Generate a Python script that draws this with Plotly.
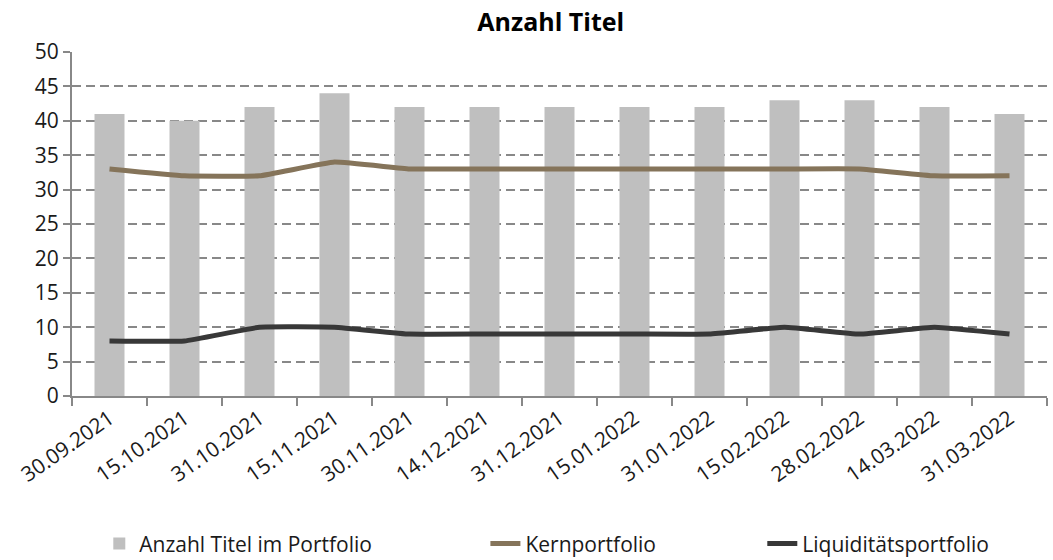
import plotly.graph_objects as go

dates = ["30.09.2021", "15.10.2021", "31.10.2021", "15.11.2021", "30.11.2021", "14.12.2021",
         "31.12.2021", "15.01.2022", "31.01.2022", "15.02.2022", "28.02.2022", "14.03.2022", "31.03.2022"]
anzahl = [41, 40, 42, 44, 42, 42, 42, 42, 42, 43, 43, 42, 41]
kern = [33, 32, 32, 34, 33, 33, 33, 33, 33, 33, 33, 32, 32]
liq = [8, 8, 10, 10, 9, 9, 9, 9, 9, 10, 9, 10, 9]

FONT = "Open Sans"
TXT = "#1a1a1a"

fig = go.Figure()
fig.add_trace(go.Bar(x=dates, y=anzahl, name="Anzahl Titel im Portfolio",
                     marker=dict(color="#bfbfbf", line=dict(width=0)), legend="legend"))
fig.add_trace(go.Scatter(x=dates, y=kern, name="Kernportfolio", mode="lines", legend="legend2",
                         line=dict(color="#85745a", width=5, shape="spline", smoothing=0.3)))
fig.add_trace(go.Scatter(x=dates, y=liq, name="Liquiditätsportfolio", mode="lines", legend="legend3",
                         line=dict(color="#383838", width=5, shape="spline", smoothing=0.3)))

leg_common = dict(orientation="h", xanchor="left", y=-0.43, yanchor="middle", borderwidth=0,
                  font=dict(family=FONT, size=21, color=TXT), bgcolor="rgba(0,0,0,0)")

fig.update_layout(
    width=1053, height=560,
    margin=dict(l=72, r=6, t=52, b=164, autoexpand=False),
    paper_bgcolor="white", plot_bgcolor="white",
    font=dict(family=FONT, size=21, color=TXT),
    title=dict(text="<b>Anzahl Titel</b>", x=0.523, xanchor="center", y=0.96, yanchor="middle",
               font=dict(family=FONT, size=25, color="#000")),
    bargap=0.6,
    showlegend=True,
    legend=dict(x=0.028, **leg_common),
    legend2=dict(x=0.424, **leg_common),
    legend3=dict(x=0.708, **leg_common),
)
fig.update_xaxes(type="category", showgrid=False, showline=True, linecolor="#888888", linewidth=2,
                 ticks="outside", tickson="boundaries", ticklen=8, tickcolor="#888888", tickwidth=2,
                 tickangle=-35, automargin=False,
                 tickfont=dict(family=FONT, size=21, color=TXT))
fig.update_yaxes(range=[0, 50], dtick=5, showgrid=True, gridcolor="#888888", griddash="9px,5px", gridwidth=1.5,
                 showline=True, linecolor="#888888", linewidth=2, zeroline=False,
                 ticks="outside", ticklen=7, tickcolor="#888888", tickwidth=2, automargin=False,
                 tickfont=dict(family=FONT, size=21, color=TXT))

fig.write_html("out.html", config={"displayModeBar": False},
               post_script="document.body.style.margin='0';document.body.style.overflow='hidden';")
